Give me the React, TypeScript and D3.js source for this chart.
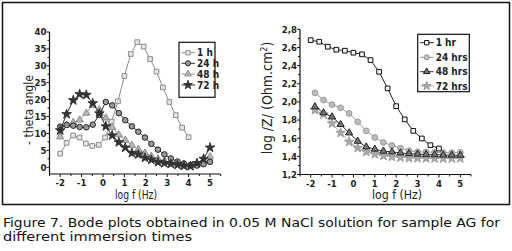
import React from 'react';
import * as d3 from 'd3';

// ---------- Left panel: phase angle ----------
const logf1h = [-2, -1.7, -1.4, -1.1, -0.8, -0.5, -0.2, 0.1, 0.4, 0.7, 1.0, 1.3, 1.6, 1.9, 2.2, 2.5, 2.8, 3.1, 3.4, 3.7, 4.0];
const theta1h = [4.0, 7.2, 9.4, 8.8, 7.0, 6.3, 6.6, 8.8, 13.5, 19.5, 27, 33.5, 37, 35.7, 32, 28.3, 23.6, 19.3, 15.4, 11.7, 8.9];
const logfLong = [-2, -1.7, -1.39, -1.09, -0.78, -0.48, -0.17, 0.13, 0.43, 0.74, 1.04, 1.35, 1.65, 1.96, 2.26, 2.57, 2.87, 3.17, 3.48, 3.78, 4.09, 4.39, 4.7, 5];
const theta24h = [12.0, 12.5, 12.3, 11.9, 11.8, 12.6, 15.5, 19.3, 18.3, 16.0, 13.9, 12.1, 10.5, 8.8, 6.9, 5.2, 3.8, 2.6, 1.7, 1.1, 0.7, 0.5, 0.9, 1.6];
const theta48h = [9.0, 12.5, 13.3, 14.0, 16.0, 18.3, 17.0, 14.6, 11.8, 9.6, 8.0, 6.5, 5.3, 4.2, 3.3, 2.5, 1.9, 1.4, 1.0, 0.8, 0.4, 0.9, 1.6, 3.1];
const theta72h = [10.9, 15.7, 19.8, 21.6, 21.4, 18.9, 15.9, 12.1, 9.4, 7.4, 5.8, 4.2, 3.8, 2.8, 2.2, 1.5, 1.2, 1.0, 0.7, 0.4, 0.3, 1.2, 2.5, 5.8];
const leftLegend = ['1 h', '24 h', '48 h', '72 h'];
const leftYTicks = [0, 5, 10, 15, 20, 25, 30, 35, 40];

// ---------- Right panel: impedance modulus ----------
const logf1hr = [-2, -1.6, -1.2, -0.8, -0.4, 0, 0.4, 0.8, 1.2, 1.6, 2.0, 2.4, 2.8, 3.2, 3.6, 4.0];
const logZ1hr = [2.68, 2.663, 2.608, 2.575, 2.564, 2.542, 2.524, 2.461, 2.332, 2.149, 1.953, 1.807, 1.681, 1.597, 1.523, 1.486];
const logfR = [-1.8, -1.4, -1.0, -0.6, -0.2, 0.2, 0.6, 1.0, 1.4, 1.8, 2.2, 2.6, 3.0, 3.4, 3.8, 4.2, 4.6, 5.0];
const logZ24 = [2.10, 2.02, 1.97, 1.935, 1.873, 1.78, 1.681, 1.608, 1.553, 1.52, 1.49, 1.462, 1.45, 1.448, 1.445, 1.442, 1.44, 1.445];
const logZ48 = [1.946, 1.88, 1.835, 1.751, 1.659, 1.567, 1.504, 1.479, 1.457, 1.449, 1.438, 1.43, 1.425, 1.42, 1.418, 1.415, 1.413, 1.413];
const logZ72 = [1.91, 1.862, 1.763, 1.659, 1.56, 1.493, 1.449, 1.424, 1.405, 1.395, 1.387, 1.382, 1.38, 1.378, 1.377, 1.376, 1.376, 1.378];
const rightLegend = ['1 hr', '24 hrs', '48 hrs', '72 hrs'];
const rightYTicks = [1.2, 1.4, 1.6, 1.8, 2.0, 2.2, 2.4, 2.6, 2.8];

const xTicks = [-2, -1, 0, 1, 2, 3, 4, 5];
const caption1 = 'Figure 7. Bode plots obtained in 0.05 M NaCl solution for sample AG for';
const caption2 = 'different immersion times';

const TICK_FONT = "'DejaVu Sans Condensed', 'Liberation Sans Narrow', sans-serif";

type Sty = { symbol: d3.SymbolType; size: number; line: string; fill: string; stroke: string };

function Series({ xs, ys, sx, sy, sty }: { xs: number[]; ys: number[]; sx: any; sy: any; sty: Sty }) {
  const pts: [number, number][] = xs.map((v, i) => [sx(v), sy(ys[i])]);
  const line = d3.line()(pts) || '';
  const sym = d3.symbol().type(sty.symbol).size(sty.size)() || '';
  return (
    <g>
      <path d={line} fill="none" stroke={sty.line} strokeWidth={1} />
      {pts.map((p, i) => (
        <path key={i} d={sym} transform={`translate(${p[0]},${p[1]})`} fill={sty.fill} stroke={sty.stroke} strokeWidth={1} />
      ))}
    </g>
  );
}

function Axes({ sx, sy, yTicks, yMinor, fmt, x0, x1, y0, y1 }: any) {
  const minorX = d3.range(-2.5, 5.51, 0.5).filter((v) => Math.abs(v - Math.round(v)) > 0.1);
  return (
    <g>
      <line x1={x0} x2={x0} y1={y1} y2={y0} stroke="#111" strokeWidth={1.2} />
      <line x1={x0} x2={x1} y1={y0} y2={y0} stroke="#111" strokeWidth={1.2} />
      {xTicks.map((t) => (
        <g key={'x' + t}>
          <line x1={sx(t)} x2={sx(t)} y1={y0} y2={y0 + 3} stroke="#111" />
          <text x={sx(t)} y={y0 + 12} textAnchor="middle" fontSize={9.5} fontWeight="bold" fontFamily={TICK_FONT} fill="#222">{t}</text>
        </g>
      ))}
      {minorX.map((t) => (
        <line key={'mx' + t} x1={sx(t)} x2={sx(t)} y1={y0} y2={y0 + 2} stroke="#111" />
      ))}
      {yTicks.map((t: number) => (
        <g key={'y' + t}>
          <line x1={x0} x2={x0 - 3} y1={sy(t)} y2={sy(t)} stroke="#111" />
          <text x={x0 - 3} y={sy(t) + 3.3} textAnchor="end" fontSize={9.5} fontWeight="bold" fontFamily={TICK_FONT} fill="#222">{fmt(t)}</text>
        </g>
      ))}
      {yMinor.map((t: number) => (
        <line key={'my' + t} x1={x0} x2={x0 - 2} y1={sy(t)} y2={sy(t)} stroke="#111" />
      ))}
    </g>
  );
}

function Legend({ x, y, w, h, rowY, labels, styles }: any) {
  return (
    <g>
      <rect x={x} y={y} width={w} height={h} fill="white" stroke="#111" strokeWidth={1.2} />
      {labels.map((lab: string, i: number) => {
        const s: Sty = styles[i];
        const cy = rowY[i];
        const sym = d3.symbol().type(s.symbol).size(s.size * 0.85)() || '';
        return (
          <g key={lab}>
            <line x1={x + 2.5} x2={x + 16} y1={cy} y2={cy} stroke={s.line} strokeWidth={1} />
            <path d={sym} transform={`translate(${x + 9},${cy})`} fill={s.fill} stroke={s.stroke} />
            <text x={x + 18} y={cy + 3.5} fontSize={10} fontWeight="bold" fontFamily={TICK_FONT} fill="#222">{lab}</text>
          </g>
        );
      })}
    </g>
  );
}

export default function App() {
  // Left panel scales
  const lx0 = 49.5, lx1 = 220.7, ly0 = 174, ly1 = 32;
  const sxL = d3.scaleLinear().domain([-2.5, 5.5]).range([lx0, lx1]);
  const syL = d3.scaleLinear().domain([-2, 40]).range([ly0, ly1]);
  // Right panel scales
  const rx0 = 300, rx1 = 471, ry0 = 174.5, ry1 = 29.3;
  const sxR = d3.scaleLinear().domain([-2.5, 5.5]).range([rx0, rx1]);
  const syR = d3.scaleLinear().domain([1.2, 2.8]).range([ry0, ry1]);

  const L: Sty[] = [
    { symbol: d3.symbolSquare, size: 22, line: '#8c8c8c', fill: '#e6e6e6', stroke: '#8c8c8c' },
    { symbol: d3.symbolCircle, size: 24, line: '#333', fill: '#9a9a9a', stroke: '#222' },
    { symbol: d3.symbolTriangle, size: 22, line: '#9a9a9a', fill: '#b8b8b8', stroke: '#8a8a8a' },
    { symbol: d3.symbolStar, size: 28, line: '#333', fill: '#333', stroke: '#333' },
  ];
  const R: Sty[] = [
    { symbol: d3.symbolSquare, size: 22, line: '#222', fill: '#f2f2f2', stroke: '#111' },
    { symbol: d3.symbolCircle, size: 26, line: '#999', fill: '#bdbdbd', stroke: '#999' },
    { symbol: d3.symbolTriangle, size: 22, line: '#333', fill: '#777', stroke: '#222' },
    { symbol: d3.symbolStar, size: 28, line: '#aaa', fill: '#aaa', stroke: '#9a9a9a' },
  ];

  const leftMinor = d3.range(2.5, 40, 5);
  const rightMinor = d3.range(1.3, 2.8, 0.2);

  return (
    <svg width={512} height={251} style={{ position: 'absolute', left: 0, top: 0, background: 'white' }}>
      <rect x={0} y={0} width={512} height={251} fill="white" />
      <rect x={2.5} y={2.5} width={507} height={202} fill="none" stroke="#111" strokeWidth={1.5} />

      {/* Left panel */}
      <Axes sx={sxL} sy={syL} yTicks={leftYTicks} yMinor={leftMinor} fmt={(t: number) => String(t)} x0={lx0} x1={lx1} y0={ly0} y1={ly1} />
      <Series xs={logf1h} ys={theta1h} sx={sxL} sy={syL} sty={L[0]} />
      <Series xs={logfLong} ys={theta48h} sx={sxL} sy={syL} sty={L[2]} />
      <Series xs={logfLong} ys={theta24h} sx={sxL} sy={syL} sty={L[1]} />
      <Series xs={logfLong} ys={theta72h} sx={sxL} sy={syL} sty={L[3]} />
      <Legend x={179} y={42.3} w={36} h={55} rowY={[52.7, 63.3, 74, 85]} labels={leftLegend} styles={L} />
      <text x={136} y={199} textAnchor="middle" fontSize={12} fontFamily={TICK_FONT} fill="#222" textLength={42} lengthAdjust="spacingAndGlyphs">log f (Hz)</text>
      <text transform="translate(32.5,110) rotate(-90)" textAnchor="middle" fontSize={12.5} fontFamily={TICK_FONT} fill="#222" textLength={70} lengthAdjust="spacingAndGlyphs">- theta angle</text>

      {/* Right panel */}
      <Axes sx={sxR} sy={syR} yTicks={rightYTicks} yMinor={rightMinor} fmt={(t: number) => t.toFixed(1).replace('.', ',')} x0={rx0} x1={rx1} y0={ry0} y1={ry1} />
      <Series xs={logfR} ys={logZ24} sx={sxR} sy={syR} sty={R[1]} />
      <Series xs={logfR} ys={logZ72} sx={sxR} sy={syR} sty={R[3]} />
      <Series xs={logfR} ys={logZ48} sx={sxR} sy={syR} sty={R[2]} />
      <Series xs={logf1hr} ys={logZ1hr} sx={sxR} sy={syR} sty={R[0]} />
      <Legend x={417.7} y={34.3} w={51.6} h={57.4} rowY={[42.7, 57.3, 71.7, 86]} labels={rightLegend} styles={R} />
      <text x={397} y={199} textAnchor="middle" fontSize={12} fontFamily={TICK_FONT} fill="#222" textLength={50} lengthAdjust="spacingAndGlyphs">log f (Hz)</text>
      <text transform="translate(272,98) rotate(-90)" textAnchor="middle" fontSize={14} fontFamily={TICK_FONT} fill="#222">
        log /Z/ (Ohm.cm<tspan dy={-5} fontSize={9}>2</tspan><tspan dy={5}>)</tspan>
      </text>

      {/* Caption */}
      <text x={3} y={226.5} fontSize={12.5} fontFamily="'DejaVu Sans', sans-serif" fill="#111" textLength={497} lengthAdjust="spacingAndGlyphs">{caption1}</text>
      <text x={3} y={240.5} fontSize={12.5} fontFamily="'DejaVu Sans', sans-serif" fill="#111" textLength={189} lengthAdjust="spacingAndGlyphs">{caption2}</text>
    </svg>
  );
}
